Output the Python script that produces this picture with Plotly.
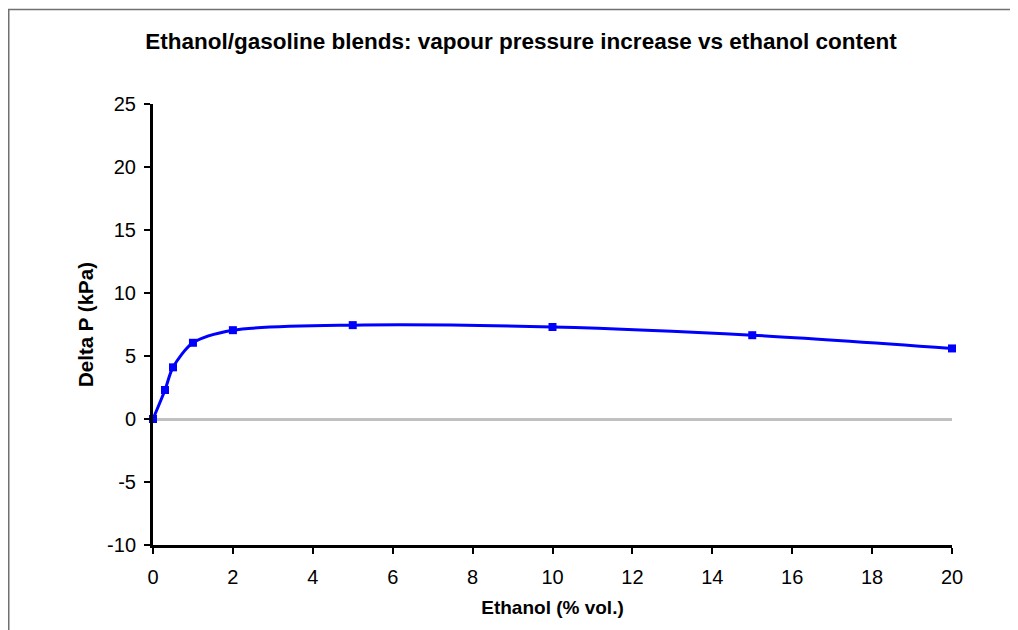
import plotly.graph_objects as go

ethanol_pct = [0, 0.3, 0.5, 1, 2, 5, 10, 15, 20]
delta_p_kpa = [0.0, 2.3, 4.1, 6.05, 7.05, 7.45, 7.3, 6.65, 5.6]

x_ticks = [0, 2, 4, 6, 8, 10, 12, 14, 16, 18, 20]
y_ticks = [-10, -5, 0, 5, 10, 15, 20, 25]

# the page body has an 8px margin, so the figure is sized/positioned to compensate
W, H = 1010, 622
L, R, T, B = 145, 66, 96, 85
pw, ph = W - L - R, H - T - B

def fx(px):
    return (px - L) / pw

def fy(py):
    return (H - B - py) / ph

fig = go.Figure()
fig.add_trace(go.Scatter(
    x=ethanol_pct, y=delta_p_kpa,
    mode="lines+markers",
    line=dict(color="#0000ff", width=3, shape="spline", smoothing=0.8),
    marker=dict(symbol="square", size=8, color="#0000ff"),
    showlegend=False,
    cliponaxis=False,
))

font_family = "Liberation Sans, Arial, sans-serif"

fig.update_layout(
    width=W, height=H,
    margin=dict(l=L, r=R, t=T, b=B),
    paper_bgcolor="white", plot_bgcolor="white",
    title=dict(
        text="<b>Ethanol/gasoline blends: vapour pressure increase vs ethanol content</b>",
        x=(521 - 8) / W, xanchor="center", y=1 - 33 / H, yanchor="middle",
        font=dict(family=font_family, size=22.5, color="black"),
    ),
    xaxis=dict(
        range=[0, 20], tickvals=x_ticks, ticktext=[str(v) for v in x_ticks],
        showgrid=False, zeroline=False,
        showline=True, linecolor="black", linewidth=3,
        ticks="outside", ticklen=6, tickwidth=2, tickcolor="black",
        ticklabelstandoff=6,
        tickfont=dict(family=font_family, size=20, color="black"),
        title=dict(text="<b>Ethanol (% vol.)</b>", standoff=14,
                   font=dict(family=font_family, size=19, color="black")),
    ),
    yaxis=dict(
        range=[-10, 25], tickvals=y_ticks, ticktext=[str(v) for v in y_ticks],
        showgrid=False, zeroline=True, zerolinecolor="#c0c0c0", zerolinewidth=3,
        showline=True, linecolor="black", linewidth=3,
        ticks="outside", ticklen=6, tickwidth=2, tickcolor="black",
        ticklabelstandoff=4,
        tickfont=dict(family=font_family, size=20, color="black"),
        title=dict(text="<b>Delta P (kPa)</b>", standoff=8,
                   font=dict(family=font_family, size=20.5, color="black")),
    ),
)

# outer frame (gray) partially visible at left/top
fig.add_shape(
    type="path", xref="paper", yref="paper",
    path=f"M {fx(0.75)} {fy(H + 20)} L {fx(0.75)} {fy(1.5)} L {fx(W + 20)} {fy(1.5)}",
    line=dict(color="#707070", width=1.5),
    layer="above",
)

fig.write_html("out.html")
